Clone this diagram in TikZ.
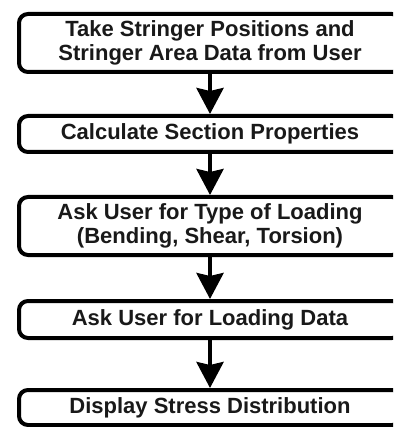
\documentclass[tikz,border=0pt]{standalone}
\usepackage{fontspec}
\setmainfont{Liberation Sans}
\usetikzlibrary{arrows.meta}
\begin{document}
\begin{tikzpicture}[x=1pt,y=-1pt,
  stepbox/.style={draw=black, line width=4pt, rounded corners=9pt, fill=white,
    minimum width=382pt, inner sep=0pt, align=center,
    font=\bfseries\fontsize{22}{24}\selectfont, text=black!90},
  flow/.style={line width=4pt, -{Stealth[length=26pt, width=27pt, inset=3pt]}}]
\useasboundingbox (0,0) rectangle (393,427);
\clip (0,0) rectangle (393,427);
\fill[white] (0,0) rectangle (393,427);
\node[stepbox, minimum height=58pt] (s1) at (210,43) {Take Stringer Positions and\\Stringer Area Data from User};
\node[stepbox, minimum height=36pt] (s2) at (210,134) {Calculate Section Properties};
\node[stepbox, minimum height=58pt] (s3) at (210,226) {Ask User for Type of Loading\\(Bending, Shear, Torsion)};
\node[stepbox, minimum height=37pt] (s4) at (210,319.5) {Ask User for Loading Data};
\node[stepbox, minimum height=35pt] (s5) at (210,407.5) {Display Stress Distribution};
\draw[flow] (s1.south) -- (s2.north);
\draw[flow] (s2.south) -- (s3.north);
\draw[flow] (s3.south) -- (s4.north);
\draw[flow] (s4.south) -- (s5.north);
\end{tikzpicture}
\end{document}
